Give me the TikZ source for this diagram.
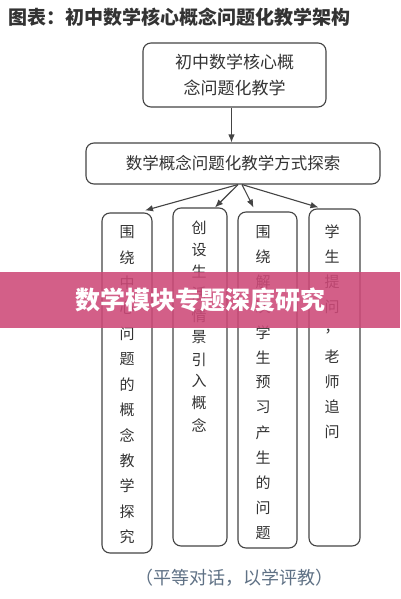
\documentclass[tikz,border=0pt]{standalone}
\usepackage{fontspec}
\newfontfamily\cjk{Noto Sans CJK SC}
\usetikzlibrary{arrows.meta,calc}
\definecolor{linegray}{HTML}{444444}
\definecolor{txtgray}{HTML}{333333}
\definecolor{notegray}{HTML}{5F7185}
\definecolor{bannerpink}{RGB}{205,73,120}
\tikzset{
  box/.style={draw=linegray, line width=1.1pt, rounded corners=8pt, inner sep=0pt},
  vch/.style={inner sep=0pt, text=txtgray, font=\cjk\fontsize{15}{15}\selectfont},
  arr/.style={draw=linegray, line width=1.1pt, -{Latex[length=8pt,width=6.5pt]}},
}
\begin{document}
\begin{tikzpicture}[x=1pt,y=-1pt]
\useasboundingbox (0,0) rectangle (400,599);
\fill[white] (0,0) rectangle (400,599);

\node[anchor=west, inner sep=0pt, text=txtgray, font=\cjk\bfseries\fontsize{19}{19}\selectfont] (title) at (8,17) {图表：初中数学核心概念问题化教学架构};

\node[box, minimum width=183pt, minimum height=64pt, align=center, text=txtgray,
  font=\cjk\fontsize{17}{26}\selectfont] (top) at (234.5,75) {初中数学核心概\\念问题化教学};

\node[box, minimum width=294pt, minimum height=41pt, text=txtgray,
  font=\cjk\fontsize{16.5}{16.5}\selectfont] (wide) at (233,163.5) {数学概念问题化教学方式探索};

\draw[arr] ($(top.south)+(-3,0)$) -- ($(wide.north)+(-1.5,0)$);

\node[box, minimum width=50pt, minimum height=340pt] (b1) at (127,383) {};
\node[box, minimum width=54pt, minimum height=338pt] (b2) at (200,377) {};
\node[box, minimum width=59pt, minimum height=336pt] (b3) at (267.5,380) {};
\node[box, minimum width=51pt, minimum height=337pt] (b4) at (334.5,377.5) {};

\coordinate (s1) at ($(wide.south)+(5,0)$);
\coordinate (s2) at ($(wide.south)+(9,0)$);
\draw[arr] (s1) -- ($(b1.north)+(18,-2)$);
\draw[arr] (s1) -- ($(b2.north)+(15,0)$);
\draw[arr] (s2) -- ($(b3.north)+(-14,-4)$);
\draw[arr] (s2) -- ($(b4.north)+(-16,-1)$);

\foreach [count=\i] \c in {围,绕,中,心,问,题,的,概,念,教,学,探,究}
  \node[vch] (ta\i) at (127,{232+25.4*(\i-1)}) {\c};
\foreach [count=\i] \c in {创,设,生,活,情,景,引,入,概,念}
  \node[vch] (tb\i) at (199,{228+21.9*(\i-1)}) {\c};
\foreach [count=\i] \c in {围,绕,解,决,学,生,预,习,产,生,的,问,题}
  \node[vch] (tc\i) at (263,{232+25.1*(\i-1)}) {\c};
\foreach [count=\i] \c in {学,生,提,问,，,老,师,追,问}
  \node[vch] (td\i) at (332,{232+25*(\i-1)}) {\c};

\node[inner sep=0pt, text=notegray, font=\cjk\fontsize{18}{18}\selectfont] (note) at (234,578) {（平等对话，以学评教）};

\fill[bannerpink, fill opacity=0.88] (0,272) rectangle (400,328);
\node[inner sep=0pt, text=white, font=\cjk\bfseries\fontsize{25}{25}\selectfont] (banner) at (200,300) {数学模块专题深度研究};
\end{tikzpicture}
\end{document}
